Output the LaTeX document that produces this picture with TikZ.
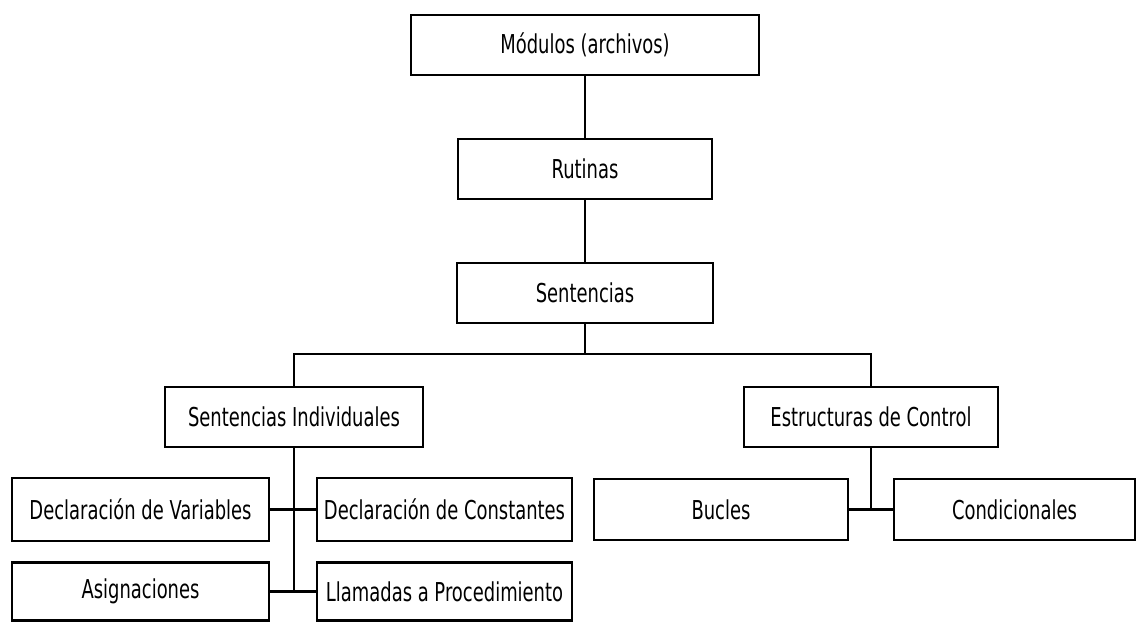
\documentclass[tikz,border=0pt]{standalone}
\usepackage{fontspec}
\setmainfont[FakeStretch=0.69]{DejaVu Sans}
\begin{document}
\begin{tikzpicture}[x=1pt,y=-1pt,
  box/.style={draw=black, line width=2.3pt, fill=white, rectangle, inner sep=0pt,
    font=\fontsize{26}{28}\selectfont},
  link/.style={draw=black, line width=2.3pt}]
\useasboundingbox (0,0) rectangle (1138,622);

% hierarchy boxes
\node[box, minimum width=348pt, minimum height=60pt] (mod) at (585,45)  {Módulos (archivos)};
\node[box, minimum width=254pt, minimum height=60pt] (rut) at (585,169) {Rutinas};
\node[box, minimum width=256pt, minimum height=60pt] (sen) at (585,293) {Sentencias};
\node[box, minimum width=258pt, minimum height=60pt] (si)  at (294,417) {Sentencias Individuales};
\node[box, minimum width=254pt, minimum height=60pt] (ec)  at (871,417) {Estructuras de Control};

\node[box, minimum width=257pt, minimum height=63pt] (dv) at (140.5,509.5) {Declaración de Variables};
\node[box, minimum width=255pt, minimum height=63pt] (dc) at (444.5,509.5) {Declaración de Constantes};
\node[box, minimum width=257pt, minimum height=58pt] (as) at (140.5,591.5) {Asignaciones};
\node[box, minimum width=255pt, minimum height=58pt] (lp) at (444.5,591.5) {Llamadas a Procedimiento};

\node[box, minimum width=254pt, minimum height=61pt] (bu) at (721,509.5)  {Bucles};
\node[box, minimum width=241pt, minimum height=61pt] (co) at (1014.5,509.5) {Condicionales};

% connectors
\coordinate (bus) at (585,354);
\draw[link] (mod.south) -- (rut.north);
\draw[link] (rut.south) -- (sen.north);
\draw[link] (sen.south) -- (bus);
\draw[link] (si.north) |- (bus) -| (ec.north);

\draw[link] (si.south) -- (si.south |- as.east);
\draw[link] (dv.east) -- (dc.west);
\draw[link] (as.east) -- (lp.west);

\draw[link] (ec.south) -- (ec.south |- bu.east);
\draw[link] (bu.east) -- (co.west);
\end{tikzpicture}
\end{document}
